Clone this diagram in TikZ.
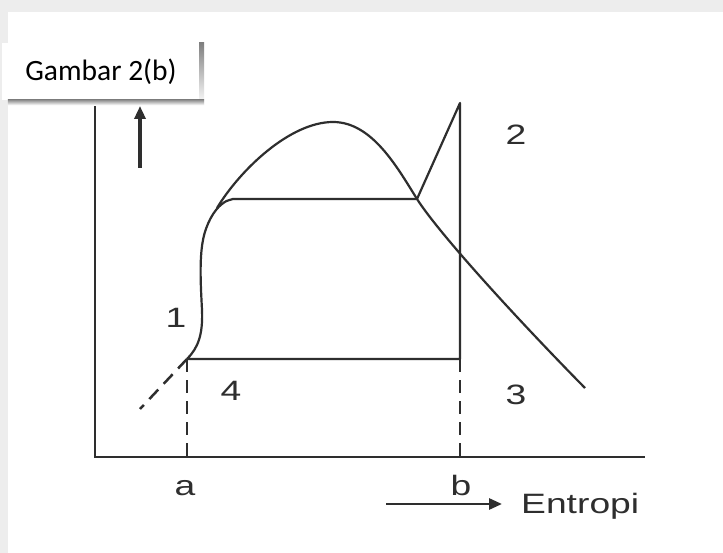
\documentclass[tikz,border=0pt]{standalone}
\usepackage{fontspec}
\setmainfont{Liberation Sans}
\newfontfamily\lblfont[FakeStretch=1.33]{Liberation Sans}
\newfontfamily\capfont{Carlito}
\usetikzlibrary{arrows.meta,positioning,calc}
\definecolor{ink}{HTML}{2E2E2E}
\definecolor{shade}{HTML}{808080}

\begin{document}
\begin{tikzpicture}[x=1pt,y=-1pt,
  >={Triangle[length=13pt,width=11pt]},
  curve/.style={draw=ink,line width=2.2pt},
  axis/.style={draw=ink,line width=2.5pt},
  dashln/.style={draw=ink,line width=2.5pt,dash pattern=on 13pt off 8pt},
  num/.style={font=\lblfont\fontsize{28}{30}\selectfont,text=ink,inner sep=0pt},
  lbl/.style={fill=white,minimum width=198pt,minimum height=57pt,inner sep=0pt,
              font=\capfont\fontsize{29.5}{32}\selectfont},
]
\useasboundingbox (0,0) rectangle (723,553);
% ---- page edge -----------------------------------------------------------
\fill[black!7] (0,0) rectangle (723,553);
\fill[white] (8,12) rectangle (723,553);

% ---- axes ------------------------------------------------------------------
\coordinate (O)  at (95,457);
\coordinate (Ytop) at (95,100);
\coordinate (Xend) at (645,457);
\draw[axis] (Ytop) -- (O) -- (Xend);

% ---- state points ------------------------------------------------------------
\coordinate (s1) at (187,359);   % pump outlet
\coordinate (sl) at (233,199);   % saturated liquid
\coordinate (sv) at (417,199);   % saturated vapour
\coordinate (s2) at (460,103);   % superheat
\coordinate (s3) at (460,359);   % turbine outlet
\coordinate (a)  at (187,457);
\coordinate (b)  at (460,457);

% saturation dome
\draw[curve] (217,208) .. controls (240,170) and (290,122) .. (333,122)
  .. controls (372,122) and (397,167) .. (sv)
  .. controls (440,235) and (520,322) .. (585,388);
% cycle
\draw[curve,line join=round] (s1) .. controls (198,348) and (203,335) .. (202,310)
  .. controls (201,290) and (199,260) .. (203,240)
  .. controls (206,224) and (214,210) .. (222,204)
  .. controls (226,201) .. (sl) -- (sv) -- (s2) -- (s3) -- (s1);
\draw[dashln] (s1) -- (a);
\draw[dashln] (s3) -- (b);
\draw[dashln] (s1) -- (140,409);

% ---- labels ------------------------------------------------------------------
\node[num] (n1) at (176,318) {1};
\node[num] (n2) at (516,135) {2};
\node[num] (n3) at (516,395) {3};
\node[num] (n4) at (231,391) {4};
\node[num] (la) at (185,488) {a};
\node[num] (lb) at (461,485) {b};
\node[num,anchor=west] (ent) at (521,506) {Entropi};
\coordinate (e0) at (386,504);
\draw[->,ink,line width=2.8pt] (e0) -- ($(ent.west)+(-19,-2)$);
\coordinate (t0) at (140,168);
\coordinate (t1) at (140,106);
\draw[->,ink,line width=3.5pt] (t0) -- (t1);

% ---- caption box -------------------------------------------------------------
\node[lbl] (fig) at (101,71.5) {Gambar 2(b)};
\fill[shade] ($(fig.north east)+(-1,0)$) rectangle ($(fig.south east)+(4,5)$);
\fill[shade] ($(fig.south west)+(6,-1)$) rectangle ($(fig.south east)+(4,5)$);
\end{tikzpicture}
\end{document}
